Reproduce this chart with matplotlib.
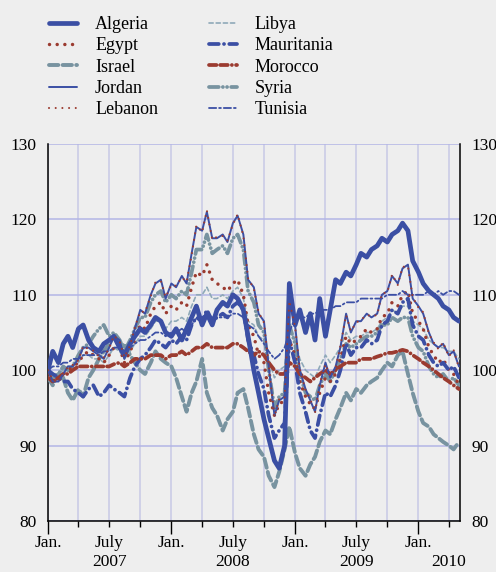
import matplotlib
matplotlib.use("Agg")
import matplotlib.pyplot as plt
import matplotlib.dates as mdates
import pandas as pd

# ---------------- DATA (index, semi-monthly, Jan 2007 = ~100) ----------------
dates = pd.date_range("2007-01-01", "2010-05-01", freq="SMS")

algeria = [
    100, 102.5, 101, 103.5, 104.5, 103, 105.5, 106, 104, 103, 102.5, 103.5,
    104, 104.5, 103, 102, 103.5, 104.5, 105.5, 105, 106, 107, 106.5, 105,
    104.5, 105.5, 104, 105.5, 107, 108.5, 106, 107.5, 106, 108, 109, 108.5,
    110, 109.5, 108, 104.5, 100, 97, 93.5, 91, 88, 87, 90, 111.5,
    106, 108, 105, 107.5, 104, 109.5, 104.5, 108, 112, 111.5, 113, 112.5,
    114, 115.5, 115, 116, 116.5, 117.5, 117, 118, 118.5, 119.5, 118.5, 114.5,
    113, 111.5, 110.5, 110, 109.5, 108.5, 108, 107, 106.5,
]
egypt = [
    99.5, 98.5, 99, 99.5, 100, 100.5, 101, 102, 102.5, 102, 101.5, 101,
    102, 103, 103, 101, 102.5, 104, 106, 105.5, 107.5, 108.5, 109, 107.5,
    108.5, 108, 109, 108.5, 111, 113, 112.5, 114, 112, 111.5, 111, 110.5,
    111.5, 112, 110, 106, 104.5, 102, 101, 97, 94, 95.5, 96, 104,
    102, 98.5, 96.5, 95.5, 95, 97, 99, 98.5, 99.5, 101.5, 104.5, 103.5,
    104, 104.5, 105.5, 105, 105.5, 107, 107.5, 109, 108.5, 110, 110.5, 107.5,
    106.5, 105.5, 103, 102, 101, 101.5, 100, 99.5, 98,
]
israel = [
    99, 98, 99.5, 99, 97, 96, 97.5, 96.5, 99, 100, 101.5, 102.5,
    103.5, 104.5, 103, 103.5, 102, 101, 100, 99.5, 101, 102.5, 101.5, 101,
    100.5, 99, 96.5, 94.5, 97, 98.5, 101.5, 97, 95, 94, 92, 93.5,
    94.5, 97, 97.5, 95, 91.5, 89.5, 88.5, 86, 84.5, 86.5, 89.5, 92.5,
    89, 87, 86, 87.5, 88.5, 90.5, 92, 91.5, 93.5, 95, 97, 96,
    97.5, 97, 98, 98.5, 99, 100, 101, 100.5, 102, 102.5, 99.5, 97,
    94.5, 93, 92.5, 91.5, 91, 90.5, 90, 89.5, 90.5,
]
jordan = [
    100, 98.5, 98.5, 99.5, 100.5, 100.5, 101.5, 103, 103, 102.5, 102, 101.5,
    103, 104.5, 104, 101.5, 103.5, 105.5, 108, 107.5, 110, 111.5, 112, 109.5,
    111.5, 111, 112.5, 111.5, 115.5, 119, 118.5, 121, 117.5, 117.5, 118, 117,
    119.5, 120.5, 118, 112, 111, 107.5, 106.5, 100.5, 94, 96, 96.5, 109,
    106, 100, 97.5, 96, 94.5, 98, 101, 99, 100.5, 103, 107.5, 105,
    106.5, 106.5, 107.5, 107, 107.5, 110, 110.5, 112.5, 111.5, 113.5, 114, 109.5,
    108.5, 107.5, 105, 103.5, 103, 103.5, 102, 102.5, 100.5,
]
lebanon = [
    100, 98.7, 98.4, 99.6, 100.4, 100.7, 101.3, 103.2, 102.8, 102.6, 101.8, 101.7,
    102.9, 104.6, 103.8, 101.7, 103.3, 105.7, 107.8, 107.7, 109.8, 111.7, 111.8, 109.7,
    111.3, 111.2, 112.3, 111.7, 115.3, 119.2, 118.3, 121.2, 117.3, 117.7, 117.8, 117.2,
    119.3, 120.7, 117.8, 112.2, 110.8, 107.7, 106.3, 100.7, 93.8, 96.2, 96.3, 109.2,
    105.8, 100.2, 97.3, 96.2, 94.3, 98.2, 100.8, 99.2, 100.3, 103.2, 107.3, 105.2,
    106.3, 106.7, 107.3, 107.2, 107.3, 110.2, 110.3, 112.7, 111.3, 113.7, 113.8, 109.7,
    108.3, 107.7, 104.8, 103.7, 102.8, 103.7, 101.8, 102.7, 100.3,
]
libya = [
    100, 99.5, 99.5, 100, 100.5, 100.5, 101, 102, 102, 101.5, 101.5, 101,
    102, 103, 102.5, 101.5, 102.5, 103.5, 104.5, 104.5, 105.5, 106.5, 106.5, 105.5,
    106.5, 106.5, 107, 106.5, 108.5, 110, 110, 111, 109.5, 109.5, 110, 109.5,
    110.5, 111, 109.5, 106.5, 106, 104.5, 104, 101.5, 99, 100, 100.5, 105.5,
    104, 101.5, 100, 99.5, 99, 100.5, 102, 101, 102, 103, 105, 104,
    104.5, 104.5, 105, 105, 105.5, 106.5, 107, 108, 107.5, 108.5, 108.5, 106.5,
    106, 105.5, 104, 103.5, 103, 103, 102.5, 102.5, 101.5,
]
mauritania = [
    100, 99.5, 99, 98.5, 98.5, 97.5, 97, 96.5, 97.5, 98, 96.5, 97,
    98, 97.5, 97, 96.5, 99, 100.5, 101.5, 102, 103, 104, 103.5, 103,
    104, 103.5, 104.5, 104, 106, 107, 106.5, 108, 106.5, 107, 107.5, 107,
    108.5, 109, 108, 104, 102, 99.5, 97.5, 94, 91, 92, 93, 104,
    101, 97, 94.5, 92, 91, 94, 97, 96.5, 98, 100, 103.5, 102,
    103, 103, 104, 103.5, 104, 106, 106.5, 108, 107.5, 109, 109.5, 106,
    104.5, 104, 102, 101, 100.5, 101, 100, 100.5, 99,
]
morocco = [
    99, 98.5, 99, 99.5, 99.5, 100, 100.5, 100.5, 100.5, 100.5, 100.5, 100.5,
    100.5, 100.8, 101, 100.5, 101, 101.5, 101.5, 101.5, 102, 102, 102, 101.5,
    102, 102, 102.5, 102, 102.5, 103, 103, 103.5, 103, 103, 103, 103,
    103.5, 103.5, 103, 102.5, 102, 102.5, 102, 101, 100, 99.5, 99.5, 101,
    100.5, 99.5, 99, 98.5, 99, 99.5, 100, 99.5, 100, 100.5, 101, 101,
    101, 101.5, 101.5, 101.5, 101.8, 102, 102.3, 102.3, 102.5, 102.7, 102.5, 102,
    101.5, 101, 100.5, 100, 99.5, 99, 98.5, 98, 97.5,
]
syria = [
    100, 99, 99.5, 100.5, 100, 100.5, 102, 103, 103.5, 104.5, 105.5, 106,
    104.5, 105, 104, 102.5, 104, 105.5, 107, 107, 109, 110, 110.5, 109,
    110, 109.5, 110.5, 110, 113, 116, 116, 118, 115.5, 116, 116.5, 115.5,
    117.5, 118, 116, 110.5, 109, 106, 105, 100, 95, 96.5, 97, 106,
    103.5, 99.5, 97, 96.5, 96, 98, 99.5, 98.5, 100, 101.5, 103.5, 103,
    103.5, 104, 104.5, 104.5, 105, 106, 106, 107, 106.5, 107, 107, 104.5,
    103, 102.5, 100.5, 99.5, 99, 99.5, 98.5, 99, 98,
]
tunisia = [
    100, 100.5, 100.5, 101, 101, 101.5, 101.5, 102, 102, 102, 102, 102.5,
    102.5, 103, 103, 102.5, 103, 103.5, 104, 104, 104.5, 105, 105, 104.5,
    105, 105, 105.5, 105, 106, 107, 107, 107.5, 107, 107, 107, 107,
    107.5, 107.5, 107, 106, 105.5, 104.5, 103.5, 102.5, 101.5, 102, 103, 105,
    107, 107, 107, 107.5, 107.5, 108, 108, 108, 108.5, 108.5, 109, 109,
    109, 109.5, 109.5, 109.5, 109.5, 109.5, 110, 110, 110, 110.5, 110, 110,
    110, 110, 110.5, 110, 110.5, 110, 110.5, 110.5, 110,
]

yticks = [80, 90, 100, 110, 120, 130]
month_labels = ["Jan.", "July", "Jan.", "July", "Jan.", "July", "Jan."]
month_label_dates = ["2007-01-01", "2007-07-01", "2008-01-01", "2008-07-01",
                     "2009-01-01", "2009-07-01", "2010-01-01"]
year_labels = ["2007", "2008", "2009", "2010"]
year_label_dates = ["2007-07-01", "2008-07-01", "2009-07-01", "2010-03-30"]

# ---------------- STYLE ----------------
BLUE = "#3b4fa4"
RED = "#9b3b30"
GRAY = "#7893a0"
LIGHT = "#8fa9b8"
BG = "#eeeeee"

plt.rcParams["font.family"] = ["Liberation Serif", "DejaVu Serif"]
plt.rcParams["font.size"] = 12.5

# name, values, color, lw, dashes (None = solid), zorder
series = [
    ("Algeria", algeria, BLUE, 3.4, None, 6),
    ("Egypt", egypt, RED, 2.5, (0.01, 2.2), 5),
    ("Israel", israel, GRAY, 2.8, (2.4, 1.1), 3),
    ("Jordan", jordan, BLUE, 1.4, None, 8),
    ("Lebanon", lebanon, RED, 1.5, (0.01, 3.2), 9),
    ("Libya", libya, LIGHT, 1.2, (2.5, 1.8), 4),
    ("Mauritania", mauritania, BLUE, 2.7, (2.6, 1.4, 0.01, 1.4), 5),
    ("Morocco", morocco, RED, 2.7, (2.0, 1.0, 2.0, 1.1, 0.01, 1.1), 5),
    ("Syria", syria, GRAY, 2.7, (2.6, 1.1, 0.01, 1.1, 0.01, 1.1), 4),
    ("Tunisia", tunisia, BLUE, 1.3, (4.0, 1.6, 1.0, 1.6), 7),
]

fig = plt.figure(figsize=(4.96, 5.72), dpi=100, facecolor=BG)
ax = fig.add_axes([48 / 496, 1 - 521 / 572, 412 / 496, 377 / 572])
ax.set_facecolor(BG)

handles = []
for name, vals, color, lw, dashes, z in series:
    ln, = ax.plot(dates, vals, color=color, lw=lw, label=name, zorder=z,
                  solid_capstyle="round", dash_capstyle="round")
    if dashes is not None:
        ln.set_dashes(dashes)
    handles.append(ln)

ax.set_xlim(pd.Timestamp("2007-01-01"), pd.Timestamp("2010-05-04"))
ax.set_ylim(80, 130)

# axes furniture
ax.xaxis.set_major_locator(mdates.MonthLocator(bymonth=[1]))
ax.xaxis.set_minor_locator(mdates.MonthLocator(bymonth=[4, 7, 10]))
ax.xaxis.set_major_formatter(plt.NullFormatter())
ax.tick_params(axis="x", which="major", length=9, width=1, direction="out")
ax.tick_params(axis="x", which="minor", length=4, width=1, direction="out")
ax.set_yticks(yticks)
ax.tick_params(axis="y", length=0, pad=8, labelright=True, labelsize=12.5)

ax.grid(True, axis="x", which="both", color="#c7c9e6", lw=1.1, zorder=0)
ax.grid(True, axis="y", which="major", color="#b2b5e6", lw=1.1, zorder=0)
ax.set_axisbelow(True)

ax.spines["top"].set_visible(False)
for s in ["left", "right", "bottom"]:
    ax.spines[s].set_color("black")
    ax.spines[s].set_linewidth(1.1)

for lab, d in zip(month_labels, month_label_dates):
    ax.annotate(lab, xy=(pd.Timestamp(d), 0), xycoords=("data", "axes fraction"),
                xytext=(0, -15.5), textcoords="offset points",
                ha="center", va="center", fontsize=12.5)
for lab, d in zip(year_labels, year_label_dates):
    ax.annotate(lab, xy=(pd.Timestamp(d), 0), xycoords=("data", "axes fraction"),
                xytext=(0, -29.5), textcoords="offset points",
                ha="center", va="center", fontsize=12.5)

fig.legend(handles=handles, loc="upper left", ncol=2, frameon=False,
           bbox_to_anchor=(49 / 496, 1 - 16 / 572), borderpad=0,
           borderaxespad=0, handlelength=1.55, handletextpad=1.0,
           columnspacing=2.8, labelspacing=0.24, fontsize=13)

fig.savefig("out.png", dpi=100, facecolor=BG)
